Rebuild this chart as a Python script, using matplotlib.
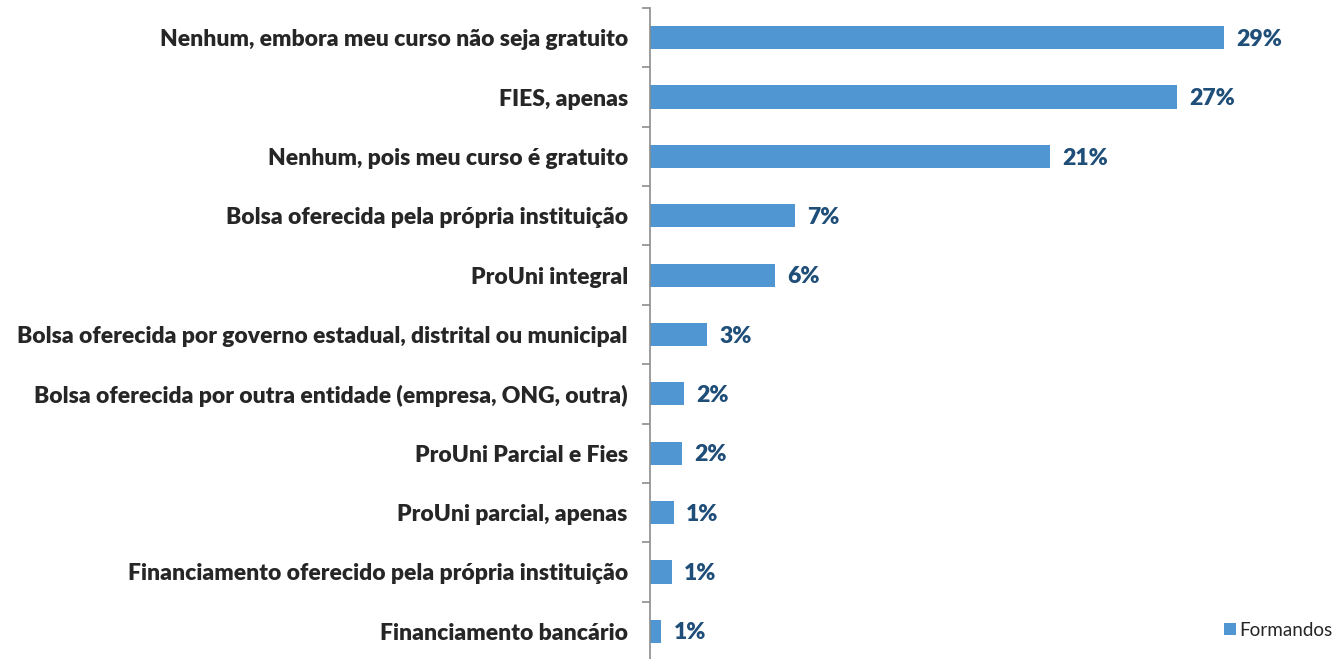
import matplotlib
matplotlib.use("Agg")
import matplotlib.pyplot as plt
import numpy as np

categories = [
    "Nenhum, embora meu curso não seja gratuito",
    "FIES, apenas",
    "Nenhum, pois meu curso é gratuito",
    "Bolsa oferecida pela própria instituição",
    "ProUni integral",
    "Bolsa oferecida por governo estadual, distrital ou municipal",
    "Bolsa oferecida por outra entidade (empresa, ONG, outra)",
    "ProUni Parcial e Fies",
    "ProUni parcial, apenas",
    "Financiamento oferecido pela própria instituição",
    "Financiamento bancário",
]
values = [29.0, 26.6, 20.2, 7.3, 6.3, 2.9, 1.7, 1.6, 1.2, 1.1, 0.55]
value_labels = ["29%", "27%", "21%", "7%", "6%", "3%", "2%", "2%", "1%", "1%", "1%"]
series_name = "Formandos"

W, H = 1341, 659
fig = plt.figure(figsize=(W / 100, H / 100), dpi=100)
ax_left, ax_top, ax_bottom = 650, 8, 661
px_per_unit = 19.8
xmax = 35
ax = fig.add_axes([ax_left / W, (H - ax_bottom) / H,
                   xmax * px_per_unit / W, (ax_bottom - ax_top) / H])

n = len(categories)
y = np.arange(n)
bar_color = "#5096D2"
bars = ax.barh(y, values, height=0.39, color=bar_color, label=series_name)
ax.set_ylim(n - 0.5, -0.5)
ax.set_xlim(0, xmax)

for yi, v, lab in zip(y, values, value_labels):
    ax.annotate(lab, (v, yi), xytext=(9, -1.2), textcoords="offset points",
                ha="left", va="center", fontsize=16.6, fontweight="heavy",
                family="Lato", color="#1F4E79")

for s in ["top", "right", "bottom"]:
    ax.spines[s].set_visible(False)
ax.spines["left"].set_color("#8C8C8C")
ax.spines["left"].set_linewidth(1.2)
ax.set_xticks([])
ax.set_yticks(y)
ax.set_yticklabels(categories, fontsize=16.45, fontweight="heavy", family="Lato",
                   color="#262626")
ax.tick_params(axis="y", which="major", length=0, pad=16)
ax.set_yticks(np.arange(-0.5, n, 1.0), minor=True)
ax.tick_params(axis="y", which="minor", length=6, width=1.2, color="#8C8C8C",
               direction="out")

leg = fig.legend(handles=[bars], labels=[series_name], loc="center left",
                 bbox_to_anchor=(1216 / W, 1 - 630 / H), frameon=False,
                 prop={"family": "Lato", "size": 13.6}, handlelength=0.65,
                 handleheight=0.65, handletextpad=0.2, borderaxespad=0)
for t in leg.get_texts():
    t.set_color("#262626")

fig.savefig("out.png", dpi=100)
